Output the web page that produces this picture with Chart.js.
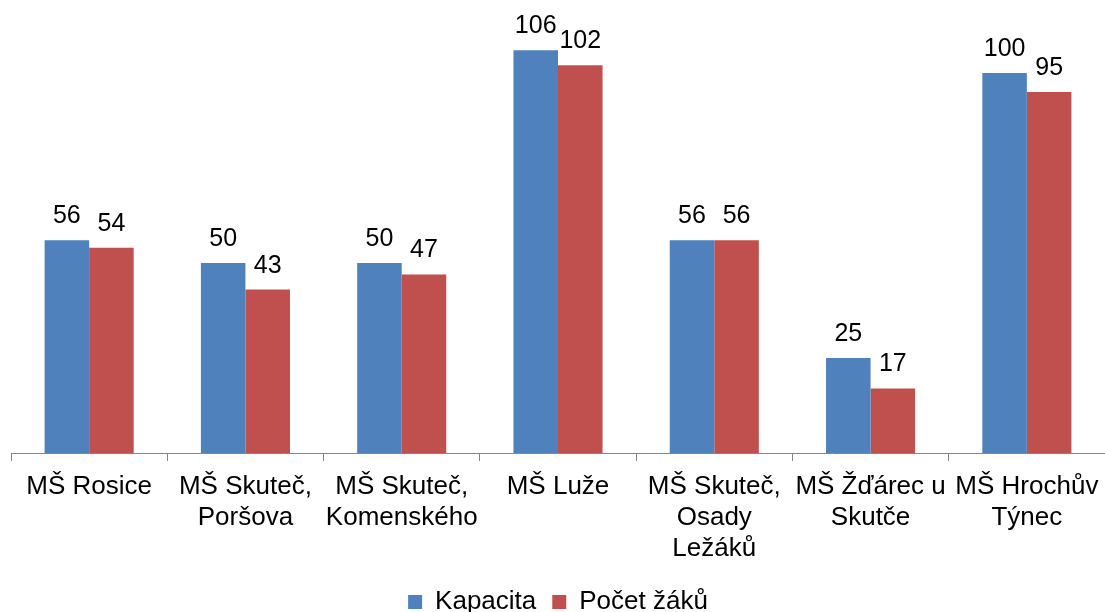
<!DOCTYPE html>
<html>
<head>
<meta charset="utf-8">
<script src="https://cdn.jsdelivr.net/npm/chart.js@4"></script>
<style>
  html, body { margin: 0; padding: 0; background: #fff; overflow: hidden; }
  canvas { display: block; }
</style>
</head>
<body>
<canvas id="chart" width="1105" height="625" style="width:1105px;height:625px"></canvas>
<script>
// Categories (already wrapped the way the original shows them)
var categories = [
    ['MŠ Rosice'],
    ['MŠ Skuteč,', 'Poršova'],
    ['MŠ Skuteč,', 'Komenského'],
    ['MŠ Luže'],
    ['MŠ Skuteč,', 'Osady', 'Ležáků'],
    ['MŠ Žďárec u', 'Skutče'],
    ['MŠ Hrochův', 'Týnec']
];
var kapacita = [56, 50, 50, 106, 56, 25, 100];
var pocetZaku = [54, 43, 47, 102, 56, 17, 95];

var fontFamily = '"Liberation Sans", Arial, sans-serif';

// Draw the value above each bar
var valueLabels = {
    id: 'valueLabels',
    afterDatasetsDraw: function(chart) {
        var ctx = chart.ctx;
        ctx.save();
        ctx.font = '25px ' + fontFamily;
        ctx.fillStyle = '#000';
        ctx.textAlign = 'center';
        ctx.textBaseline = 'alphabetic';
        chart.data.datasets.forEach(function(ds, i) {
            chart.getDatasetMeta(i).data.forEach(function(bar, j) {
                ctx.fillText(ds.data[j], bar.x, bar.y - 17);
            });
        });
        ctx.restore();
    }
};

var ctx = document.getElementById('chart').getContext('2d');
var myChart = new Chart(ctx, {
    type: 'bar',
    data: {
        labels: categories,
        datasets: [{
            label: 'Kapacita',
            data: kapacita,
            backgroundColor: '#4F81BD',
            categoryPercentage: 0.57,
            barPercentage: 1.0
        }, {
            label: 'Počet žáků',
            data: pocetZaku,
            backgroundColor: '#C0504D',
            categoryPercentage: 0.57,
            barPercentage: 1.0
        }]
    },
    options: {
        responsive: false,
        animation: false,
        layout: { padding: { left: 11, right: 0, top: 0, bottom: 0 } },
        plugins: {
            legend: {
                position: 'bottom',
                labels: {
                    boxWidth: 14,
                    boxHeight: 14,
                    padding: 16,
                    color: '#000',
                    font: { family: fontFamily, size: 26 }
                }
            },
            tooltip: { enabled: false }
        },
        scales: {
            x: {
                afterFit: function(scale) {
                    scale.height = 120;
                    scale.paddingLeft = 0;
                    scale.paddingRight = 0;
                },
                border: { display: true, color: '#868686', width: 1 },
                grid: {
                    offset: true,
                    drawOnChartArea: false,
                    drawTicks: true,
                    tickLength: 8,
                    color: '#868686'
                },
                ticks: {
                    color: '#000',
                    padding: 10,
                    autoSkip: false,
                    maxRotation: 0,
                    font: { family: fontFamily, size: 26, lineHeight: 1.19 }
                }
            },
            y: {
                display: false,
                min: 0,
                max: 119.2
            }
        }
    },
    plugins: [valueLabels]
});
</script>
</body>
</html>
